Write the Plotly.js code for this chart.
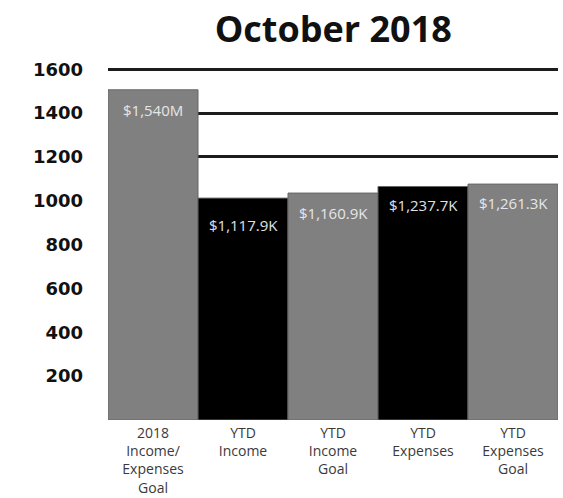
<!DOCTYPE html>
<html><head><meta charset="utf-8">
<script src="https://cdn.plot.ly/plotly-3.0.1.min.js"></script>
<style>html,body{margin:0;padding:0;background:#fff;}#chart{width:563px;height:498px;}</style>
</head><body><div id="chart"></div>
<script>
var categories = ["2018<br>Income/<br>Expenses<br>Goal", "YTD<br>Income", "YTD<br>Income<br>Goal", "YTD<br>Expenses", "YTD<br>Expenses<br>Goal"];
var values = [1506, 1012, 1035, 1065, 1076];
var valueLabels = ["$1,540M", "$1,117.9K", "$1,160.9K", "$1,237.7K", "$1,261.3K"];
var tickValues = [200, 400, 600, 800, 1000, 1200, 1400, 1600];

var barColors = ["#808080", "#000000", "#808080", "#000000", "#808080"];
var labelColors = ["#e6e6e6", "#e0e0e0", "#e6e6e6", "#e0e0e0", "#e6e6e6"];
var labelShifts = [-8, -15, -8, -7, -7];

var trace = {
  type: "bar",
  x: categories,
  y: values,
  marker: {color: barColors, line: {color: "#666666", width: 1}},
  hoverinfo: "none"
};

var annotations = categories.map(function (c, i) {
  return {
    x: c, y: values[i], xref: "x", yref: "y",
    text: valueLabels[i], showarrow: false,
    yanchor: "top", yshift: labelShifts[i],
    font: {family: "Open Sans", size: 15, color: labelColors[i]}
  };
});

var layout = {
  width: 563, height: 498,
  margin: {l: 108, r: 5, t: 67, b: 78},
  paper_bgcolor: "#ffffff", plot_bgcolor: "#ffffff",
  bargap: 0,
  showlegend: false,
  title: {text: "October 2018", x: 0.592, xanchor: "center", y: 0.94, yanchor: "middle",
    font: {family: "Open Sans", size: 36, weight: 700, color: "#111111"}},
  xaxis: {
    tickfont: {family: "Open Sans", size: 14, color: "#3a3a3a"},
    showgrid: false, zeroline: false, showline: false, ticks: "",
    ticklabelstandoff: 3,
    fixedrange: true
  },
  yaxis: {
    range: [0, 1610],
    tickvals: tickValues,
    ticktext: tickValues.map(String),
    tickfont: {family: "DejaVu Sans", size: 18, weight: 700, color: "#111111"},
    showgrid: true, gridcolor: "#1c1c1c", gridwidth: 3,
    zeroline: false, showline: false, ticks: "",
    ticklabelstandoff: 24,
    fixedrange: true
  },
  annotations: annotations
};

Plotly.newPlot("chart", [trace], layout, {displayModeBar: false, staticPlot: true});
</script></body></html>
